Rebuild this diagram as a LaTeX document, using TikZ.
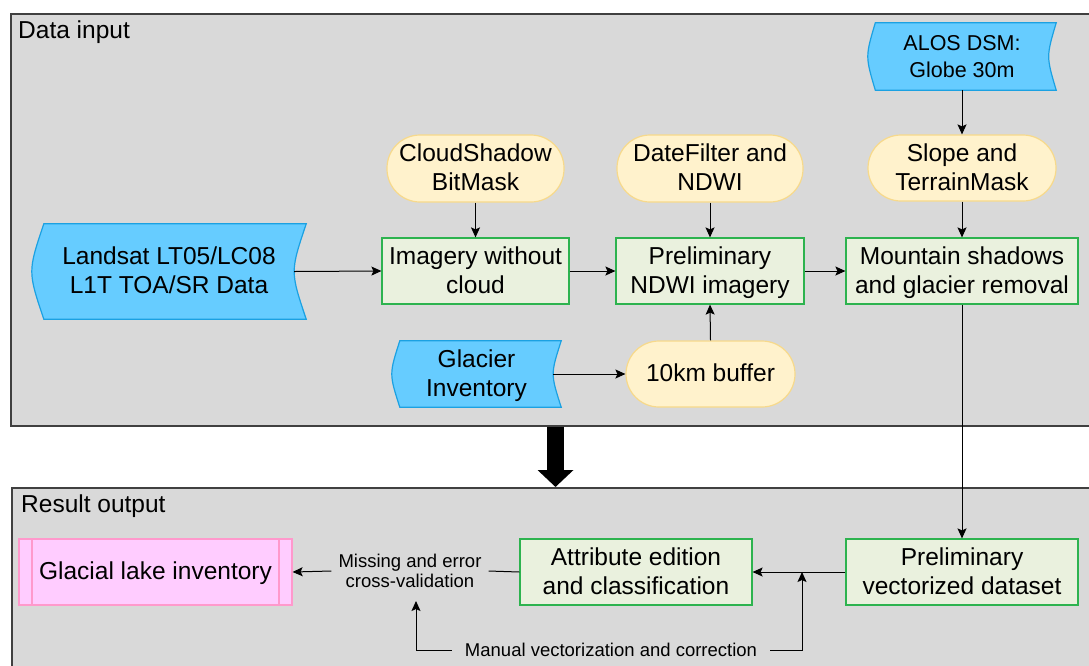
\documentclass[tikz,border=0pt]{standalone}
\usepackage{fontspec}
\setmainfont{Liberation Sans}
\usetikzlibrary{arrows.meta}

\definecolor{panelgray}{HTML}{D9D9D9}
\definecolor{panelline}{HTML}{404040}
\definecolor{datafill}{HTML}{66CCFF}
\definecolor{dataline}{HTML}{1BA1E2}
\definecolor{procfill}{HTML}{FFF2CC}
\definecolor{procline}{HTML}{F7D98B}
\definecolor{stepfill}{HTML}{EAF1DE}
\definecolor{stepline}{HTML}{2DB34F}
\definecolor{lakefill}{HTML}{FFCCFF}
\definecolor{lakeline}{HTML}{FF99CC}

\pgfdeclarelayer{panels}
\pgfdeclarelayer{shapes}
\pgfsetlayers{panels,shapes,main}

% stored-data outline behind a node: convex left side, concave right side
\newcommand\wavebg[2]{%
  \path[datashape] ([xshift=#2]#1.north west) -- (#1.north east)
    .. controls ([xshift={-#2*4/3}]#1.east) .. (#1.south east)
    -- ([xshift=#2]#1.south west)
    .. controls ([xshift={-#2/3}]#1.west) .. ([xshift=#2]#1.north west) -- cycle;}

\tikzset{
  % two text lines by default; boxes keep the same baselines whatever the letters
  base/.style={font=\fontsize{24.5}{29}\selectfont, align=center, inner sep=0pt,
    text height=44pt, text depth=0pt},
  oneline/.style={text height=15pt, text depth=0pt},
  datanode/.style={base},
  datashape/.style={fill=datafill, draw=dataline, line width=1.2pt},
  stepbox/.style={base, rectangle, draw=stepline, fill=stepfill, line width=1.2pt},
  procpill/.style={base, rectangle, rounded corners=33pt, draw=procline, fill=procfill, line width=1.2pt},
  lakebox/.style={base, rectangle, draw=lakeline, fill=lakefill, line width=1.2pt,
    path picture={
      \draw[lakeline, line width=1.2pt]
        ([xshift=13pt]path picture bounding box.north west) -- ([xshift=13pt]path picture bounding box.south west)
        ([xshift=-13pt]path picture bounding box.north east) -- ([xshift=-13pt]path picture bounding box.south east);}},
  panel/.style={draw=panelline, fill=panelgray, line width=1.5pt, anchor=north west, inner sep=0pt},
  paneltitle/.style={font=\fontsize{24.5}{29}\selectfont, anchor=base west, inner sep=0pt},
  note/.style={font=\fontsize{18.5}{20}\selectfont, align=center},
  arr/.style={-{Stealth[length=10pt,width=9pt,inset=2pt]}, line width=1pt},
  link/.style={line width=1pt},
  bigarrow/.style={line width=17pt, -{Triangle[length=17pt,width=35pt]}}
}

\begin{document}
\begin{tikzpicture}[x=1pt, y=-1pt]
\useasboundingbox (0,0) rectangle (1089,665);
\clip (0,0) rectangle (1089,665);

% panels
\begin{pgfonlayer}{panels}
  \node[panel, minimum width=1100pt, minimum height=412pt] (inputpanel) at (10,13) {};
  \node[panel, minimum width=1100pt, minimum height=220pt] (outputpanel) at (11,487) {};
\end{pgfonlayer}
\node[paneltitle] (inputtitle) at (18,38) {Data input};
\node[paneltitle] (outputtitle) at (21,512) {Result output};

% data input
\node[datanode, minimum width=274pt, minimum height=95pt] (landsat) at (169,271.5) {Landsat LT05/LC08\\L1T TOA/SR Data};
\node[datanode, minimum width=169pt, minimum height=66pt] (glacier) at (476.5,374) {Glacier\\Inventory};
\node[datanode, minimum width=188pt, minimum height=67pt, font=\fontsize{21.5}{27}\selectfont, text height=41pt] (alos) at (962,56.5) {ALOS DSM:\\Globe 30m};
\begin{pgfonlayer}{shapes}
  \wavebg{landsat}{12}
  \wavebg{glacier}{8}
  \wavebg{alos}{7.5}
\end{pgfonlayer}

\node[procpill, minimum width=177pt, minimum height=67pt] (cloudmask) at (475.5,168.5) {CloudShadow\\BitMask};
\node[procpill, minimum width=186pt, minimum height=67pt] (datefilter) at (710,168.5) {DateFilter and\\NDWI};
\node[procpill, minimum width=188pt, minimum height=66pt] (slope) at (962,168) {Slope and\\TerrainMask};
\node[procpill, oneline, minimum width=169pt, minimum height=66pt] (buffer) at (710.5,374) {10km buffer};

\node[stepbox, minimum width=187pt, minimum height=66pt] (imagery) at (475.5,271) {Imagery without\\cloud};
\node[stepbox, minimum width=188pt, minimum height=66pt] (ndwi) at (710,271) {Preliminary\\NDWI imagery};
\node[stepbox, minimum width=232pt, minimum height=66pt] (mountain) at (962,271) {Mountain shadows\\and glacier removal};

% result output
\node[stepbox, minimum width=232pt, minimum height=66pt] (prelimvec) at (962,572) {Preliminary\\vectorized dataset};
\node[stepbox, minimum width=232pt, minimum height=66pt] (attribute) at (636,572) {Attribute edition\\and classification};
\node[lakebox, oneline, minimum width=273pt, minimum height=66pt] (lake) at (155.5,572) {Glacial lake inventory};
\node[note, inner xsep=7pt, inner ysep=13pt] (missing) at (410,571) {Missing and error\\cross-validation};
\node[note, inner xsep=13pt, inner ysep=2pt] (manual) at (611,650) {Manual vectorization and correction};
\coordinate (join) at (802,572);
\coordinate (bigx) at (555.5,0);

% connectors
\draw[arr] ([xshift=-12pt]landsat.east) -- (imagery.west);
\draw[arr] (cloudmask.south) -- (imagery.north);
\draw[arr] (imagery.east) -- (ndwi.west);
\draw[arr] (datefilter.south) -- (ndwi.north);
\draw[arr] ([xshift=-8pt]glacier.east) -- (buffer.west);
\draw[arr] (buffer.north) -- (ndwi.south);
\draw[arr] (ndwi.east) -- (mountain.west);
\draw[arr] (alos.south) -- (slope.north);
\draw[arr] (slope.south) -- (mountain.north);
\draw[arr] (mountain.south) -- (prelimvec.north);
\draw[arr] (prelimvec.west) -- (attribute.east);
\draw[link] (attribute.west) -- (missing.east);
\draw[arr] (missing.west) -- (lake.east);
\draw[arr] (manual.west) -| ([xshift=6pt]missing.south);
\draw[arr] (manual.east) -| (join);

\draw[bigarrow] (inputpanel.south -| bigx) -- (outputpanel.north -| bigx);
\end{tikzpicture}
\end{document}
